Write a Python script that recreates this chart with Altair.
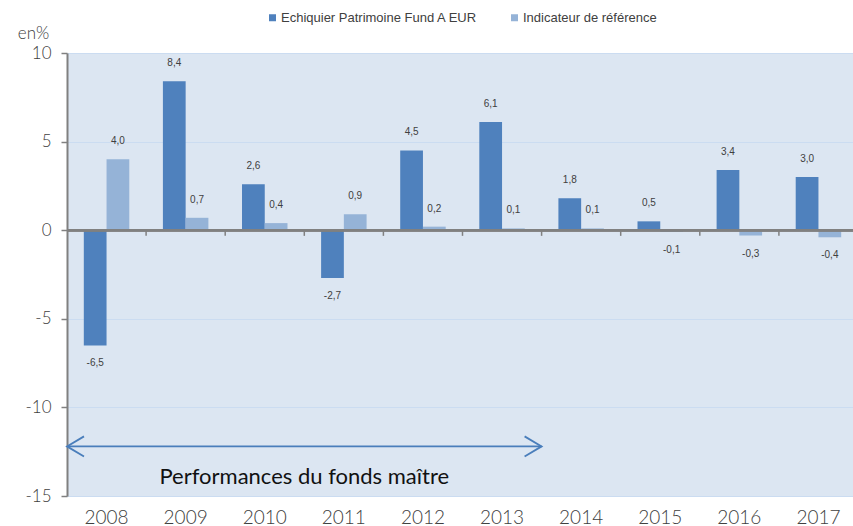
import altair as alt
import pandas as pd

# ---- data -------------------------------------------------------------
years = ["2008", "2009", "2010", "2011", "2012", "2013", "2014", "2015", "2016", "2017"]
fund = [-6.5, 8.4, 2.6, -2.7, 4.5, 6.1, 1.8, 0.5, 3.4, 3.0]
bench = [4.0, 0.7, 0.4, 0.9, 0.2, 0.1, 0.1, -0.1, -0.3, -0.4]
series_names = ["Echiquier Patrimoine Fund A EUR", "Indicateur de référence"]
series_colors = ["#4f81bd", "#95b3d7"]
y_ticks = [-15, -10, -5, 0, 5, 10]
y_domain = [-15, 10]
arrow_text = "Performances du fonds maître"
arrow_from_to = [0, 6]        # in category steps (2008 start -> 2013 end)
arrow_level = -12.2
arrow_text_level = -13.9

rows = []
for i, yr in enumerate(years):
    for name, vals in zip(series_names, [fund, bench]):
        v = vals[i]
        rows.append({"year": yr, "series": name, "value": v,
                     "label": f"{v:.1f}".replace(".", ",")})
df = pd.DataFrame(rows)

n = len(years)
tick_df = pd.DataFrame({"x": list(range(1, n)), "y": [0] * (n - 1), "y2": [-0.32] * (n - 1)})
arrow_df = pd.DataFrame({"x": [arrow_from_to[0]], "x2": [arrow_from_to[1]], "y": [arrow_level]})
head_df = pd.DataFrame({"x": arrow_from_to, "y": [arrow_level] * 2, "side": ["left", "right"]})
atext_df = pd.DataFrame({"x": [sum(arrow_from_to) / 2], "y": [arrow_text_level], "t": [arrow_text]})

# ---- scales / axes ----------------------------------------------------
RANGE = 791
x_band = alt.Scale(domain=years, range=[0, RANGE], paddingInner=0.425, paddingOuter=0.2125)
x_lin = alt.Scale(domain=[0, n], range=[0, RANGE])
y_scale = alt.Scale(domain=y_domain, nice=False)
y_axis = alt.Axis(values=y_ticks, title="en%", titleAngle=0, titleAlign="center",
                  titleBaseline="bottom", titleX=-34, titleY=-11, titleFont="Lato",
                  titleFontSize=17, titleFontWeight=300, titleColor="#404040",
                  labelExpr="'' + datum.value",
                  labelFont="Lato", labelFontSize=17, labelFontWeight=300,
                  labelColor="#404040",
                  labelPadding=10, tickSize=6, tickColor="#808080", tickWidth=1.5,
                  domainColor="#808080", domainWidth=2, grid=True,
                  gridColor="#cbdcf1", gridWidth=1)

x_enc = alt.X("year:N", scale=x_band, sort=years,
              axis=alt.Axis(title=None, domain=False, ticks=False, labelAngle=0,
                            labelFont="Lato", labelFontSize=19, labelFontWeight=300,
                            labelColor="#404040",
                            labelPadding=12, grid=False))
xoff = alt.XOffset("series:N", scale=alt.Scale(domain=series_names), sort=series_names)
y_enc = alt.Y("value:Q", scale=y_scale, axis=y_axis)

bars = alt.Chart(df).mark_bar().encode(
    x=x_enc, xOffset=xoff, y=y_enc,
    color=alt.Color("series:N", scale=alt.Scale(domain=series_names, range=series_colors),
                    legend=alt.Legend(title=None, orient="none", legendX=199, legendY=-42,
                                      direction="horizontal", symbolType="square",
                                      symbolSize=49, symbolStrokeWidth=0,
                                      labelFont="Liberation Sans", labelFontSize=13,
                                      labelColor="#404040", labelOffset=2, labelLimit=400,
                                      columnPadding=30, padding=0)),
)

txt_pos = alt.Chart(df).transform_filter("datum.value >= 0").mark_text(
    font="Liberation Sans", fontSize=10, color="#404040", dy=-18, baseline="middle"
).encode(x=x_enc, xOffset=xoff, y=y_enc, text="label:N")

txt_neg = alt.Chart(df).transform_filter("datum.value < 0").mark_text(
    font="Liberation Sans", fontSize=10, color="#404040", dy=18, baseline="middle"
).encode(x=x_enc, xOffset=xoff, y=y_enc, text="label:N")

main = alt.layer(bars, txt_pos, txt_neg)

zero = alt.Chart(tick_df).mark_rule(color="#808080", strokeWidth=2).encode(
    y=alt.Y("zero:Q", scale=y_scale, axis=y_axis)
).transform_calculate(zero="0")

ticks = alt.Chart(tick_df).mark_rule(color="#808080", strokeWidth=1.5).encode(
    x=alt.X("x:Q", scale=x_lin, axis=None),
    y=alt.Y("y:Q", scale=y_scale, axis=y_axis),
    y2="y2:Q",
)

arrow_line = alt.Chart(arrow_df).mark_rule(color="#4a7ebb", strokeWidth=1.8).encode(
    x=alt.X("x:Q", scale=x_lin, axis=None), x2="x2:Q",
    y=alt.Y("y:Q", scale=y_scale, axis=y_axis),
)

heads = alt.Chart(head_df).mark_point(filled=False, color="#4a7ebb", strokeWidth=1.8,
                                      size=289, opacity=1).encode(
    x=alt.X("x:Q", scale=x_lin, axis=None),
    y=alt.Y("y:Q", scale=y_scale, axis=y_axis),
    shape=alt.Shape("side:N", legend=None,
                    scale=alt.Scale(domain=["left", "right"],
                                    range=["M2,-1.18L0,0L2,1.18", "M-2,-1.18L0,0L-2,1.18"])),
)

atext = alt.Chart(atext_df).mark_text(font="Lato", fontSize=22, color="#111111",
                                      baseline="middle", align="center").encode(
    x=alt.X("x:Q", scale=x_lin, axis=None),
    y=alt.Y("y:Q", scale=y_scale, axis=y_axis),
    text="t:N",
)

chart = alt.layer(main, zero, ticks, arrow_line, heads, atext).resolve_scale(
    x="independent"
).properties(
    width=786, height=443,
    autosize=alt.AutoSizeParams(type="none"),
    padding={"left": 67, "top": 53, "right": 0, "bottom": 30},
    background="white",
).configure_view(fill="#dce6f2", stroke="transparent")

chart.save("out.html", embed_options={"renderer": "svg", "actions": False})
